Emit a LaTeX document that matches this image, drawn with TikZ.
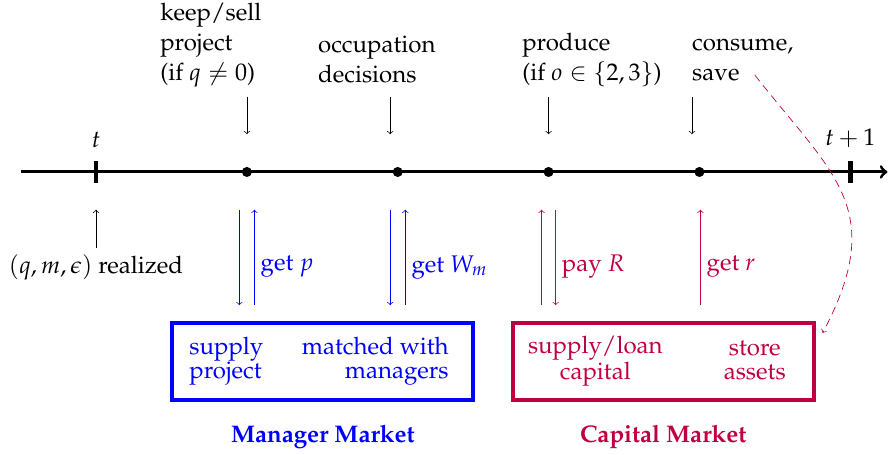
\documentclass[tikz,border=0pt]{standalone}
\usepackage[T1]{fontenc}
\usepackage{mathpazo}
\begin{document}
\begin{tikzpicture}[>=to, font=\fontsize{13.6}{17}\selectfont]
  \useasboundingbox (-1.91,-5.61) rectangle (15.77,3.42);

  % time line
  \coordinate (start) at (-1.5,0);
  \coordinate (end) at (15.74,0);
  \draw[line width=1.7pt,->] (start) -- (end);

  \begin{scope}[every node/.style={fill, inner sep=0pt, minimum width=0.09cm, minimum height=0.44cm}]
    \node (t)  at (0,0)  {};
    \node (t1) at (15,0) {};
  \end{scope}
  \node (tl)  at (0,0.64)   {$t$};
  \node (t1l) at (15,0.68)  {$t+1$};

  \begin{scope}[every node/.style={circle, fill, inner sep=0pt, minimum size=0.2cm}]
    \node (1) at (3,0)  {};
    \node (2) at (6,0)  {};
    \node (3) at (9,0)  {};
    \node (4) at (12,0) {};
  \end{scope}

  % events above the line
  \begin{scope}[every node/.style={align=left, anchor=west, inner sep=0pt}]
    \node (keep)    at (1.27,2.52)  {keep/sell\\project\\(if $q\neq 0$)};
    \node (occ)     at (4.41,2.23)  {occupation\\decisions};
    \node (prod)    at (8.47,2.23)  {produce\\(if $o\in\{2,3\}$)};
    \node (consume) at (11.85,2.23) {consume,\\save};
  \end{scope}

  \coordinate (a1) at (3,1.5);     \coordinate (b1) at (3,0.75);
  \coordinate (a2) at (5.85,1.5);  \coordinate (b2) at (5.85,0.75);
  \coordinate (a3) at (9,1.5);     \coordinate (b3) at (9,0.75);
  \coordinate (a4) at (11.85,1.5); \coordinate (b4) at (11.85,0.75);
  \begin{scope}[every edge/.style={draw, ->}]
    \path (a1) edge (b1);
    \path (a2) edge (b2);
    \path (a3) edge (b3);
    \path (a4) edge (b4);
  \end{scope}

  % shocks
  \node (real) at (0,-1.89) {$(q,m,\epsilon)$ realized};
  \coordinate (w0) at (0,-0.75);
  \path[->] (real) edge (w0);

  % flows to and from the markets
  \coordinate (c1) at (2.85,-0.75);  \coordinate (d1) at (2.85,-2.65);
  \coordinate (c2) at (3.15,-0.75);  \coordinate (d2) at (3.15,-2.65);
  \coordinate (c3) at (5.85,-0.75);  \coordinate (d3) at (5.85,-2.65);
  \coordinate (c4) at (6.15,-0.75);  \coordinate (d4) at (6.15,-2.65);
  \coordinate (c5) at (8.86,-0.75);  \coordinate (d5) at (8.86,-2.65);
  \coordinate (c6) at (9.14,-0.75);  \coordinate (d6) at (9.14,-2.65);
  \coordinate (c7) at (12.02,-0.75); \coordinate (d7) at (12.02,-2.65);

  \begin{scope}[every edge/.style={draw, ->}]
    \begin{scope}[blue]
      \path (c1) edge (d1);
      \path (d2) edge node[right, pos=0.4] {get $p$} (c2);
      \path (c3) edge (d3);
      \path (d4) edge node[right, pos=0.4] {get $W_m$} (c4);
    \end{scope}
    \begin{scope}[purple]
      \path (d5) edge (c5);
      \path (c6) edge node[right, pos=0.6] {pay $R$} (d6);
      \path (d7) edge node[right, pos=0.4] {get $r$} (c7);
    \end{scope}
  \end{scope}

  % markets
  \begin{scope}[every node/.style={draw, line width=2.3pt, minimum width=5.99cm, minimum height=1.53cm}]
    \node[blue]   (mm) at (4.51,-3.77)  {};
    \node[purple] (cm) at (11.28,-3.77) {};
  \end{scope}

  \begin{scope}[every node/.style={font=\fontsize{13.6}{13.6}\selectfont, inner sep=0pt}]
    \begin{scope}[blue]
      \node[align=left, anchor=west]  (sp) at (1.85,-3.77) {supply\\project};
      \node[align=right, anchor=east] (mw) at (7.02,-3.77) {matched with\\managers};
    \end{scope}
    \begin{scope}[purple]
      \node[align=center] (sl) at (9.93,-3.77) {supply/loan\\capital};
      \node[align=center] (sa) at (13.1,-3.74) {store\\assets};
    \end{scope}
  \end{scope}

  \node[blue, font=\fontsize{13.6}{17}\selectfont\bfseries] (mml) at (4.51,-5.27) {Manager Market};
  \node[purple, font=\fontsize{13.6}{17}\selectfont\bfseries] (cml) at (11.28,-5.27) {Capital Market};

  % savings go into the capital market
  \coordinate (s0) at (13.1,1.93);
  \coordinate (s1) at (14.45,-3.2);
  \draw[purple, dash pattern=on 4.5pt off 3pt, ->] (s0) .. controls +(-52:2.5) and +(62:2.8) .. (s1);

\end{tikzpicture}
\end{document}
